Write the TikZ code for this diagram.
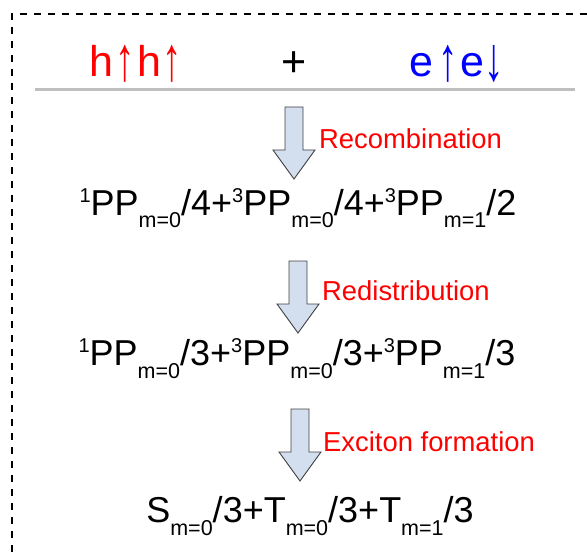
\documentclass[tikz,border=0pt]{standalone}
\usepackage{fontspec}
\setmainfont{Liberation Sans}
\usepackage{xcolor}
\usepackage{tikz}
\usetikzlibrary{positioning}
\definecolor{arrowfill}{HTML}{D3DEEF}
\newcommand{\hi}[1]{\raisebox{12.5pt}{\fontsize{20}{20}\selectfont #1}}
\newcommand{\lo}[1]{\raisebox{-13pt}{\fontsize{21.5}{21.5}\selectfont #1}}
\newcommand{\spinup}{\hspace{2pt}\raisebox{-4pt}{\scalebox{0.9}[1.45]{↑}}\hspace{2pt}}
\newcommand{\spindn}{\hspace{1pt}\raisebox{-4pt}{\scalebox{0.9}[1.45]{↓}}}

\begin{document}
\begin{tikzpicture}[x=1pt, y=-1pt,
  formula/.style={anchor=base, inner sep=0pt, font=\fontsize{36}{40}\selectfont},
  spin/.style={anchor=base, inner sep=0pt, font=\fontsize{43}{46}\selectfont},
  lab/.style={anchor=base west, inner sep=0pt, text=red, font=\fontsize{27.4}{30}\selectfont},
  frame/.style={dash pattern=on 7pt off 7pt, line width=1.3pt},
  sep/.style={line width=3pt, color=black!25},
  fat/.pic={\draw[fill=arrowfill, draw=black!75, line width=0.9pt] (-9,-72) -- (9,-72) -- (9,-29) -- (21,-29) -- (0,0) -- (-21,-29) -- (-9,-29) -- cycle;}]
  \useasboundingbox (0,0) rectangle (587,559);
  \draw[frame] (587,14) -- (12,14) -- (12,559);
  \node[spin, text=red] (hh) at (136,77) {h\spinup h\spinup};
  \node[spin] (plus) at (294,77) {+};
  \node[spin, text=blue] (ee) at (457,77) {e\hspace{3pt}\spinup e\spindn};
  \coordinate (s0) at (35,90);
  \coordinate (s1) at (575,90);
  \draw[sep] (s0) -- (s1);
  \coordinate (a1) at (294,179);
  \coordinate (a2) at (298,333);
  \coordinate (a3) at (300,481);
  \pic at (a1) {fat};
  \pic at (a2) {fat};
  \pic at (a3) {fat};
  \node[lab] (l1) at ([shift={(25,-30)}]a1) {Recombination};
  \node[lab] (l2) at ([shift={(24,-33)}]a2) {Redistribution};
  \node[lab] (l3) at ([shift={(23,-30)}]a3) {Exciton formation};
  \node[formula] (f1) at (298,215) {\hi{1}PP\lo{m=0}/4+\hi{3}PP\lo{m=0}/4+\hi{3}PP\lo{m=1}/2};
  \node[formula] (f2) at (297,365) {\hi{1}PP\lo{m=0}/3+\hi{3}PP\lo{m=0}/3+\hi{3}PP\lo{m=1}/3};
  \node[formula] (f3) at (310,522) {S\lo{m=0}/3+T\lo{m=0}/3+T\lo{m=1}/3};
\end{tikzpicture}
\end{document}
